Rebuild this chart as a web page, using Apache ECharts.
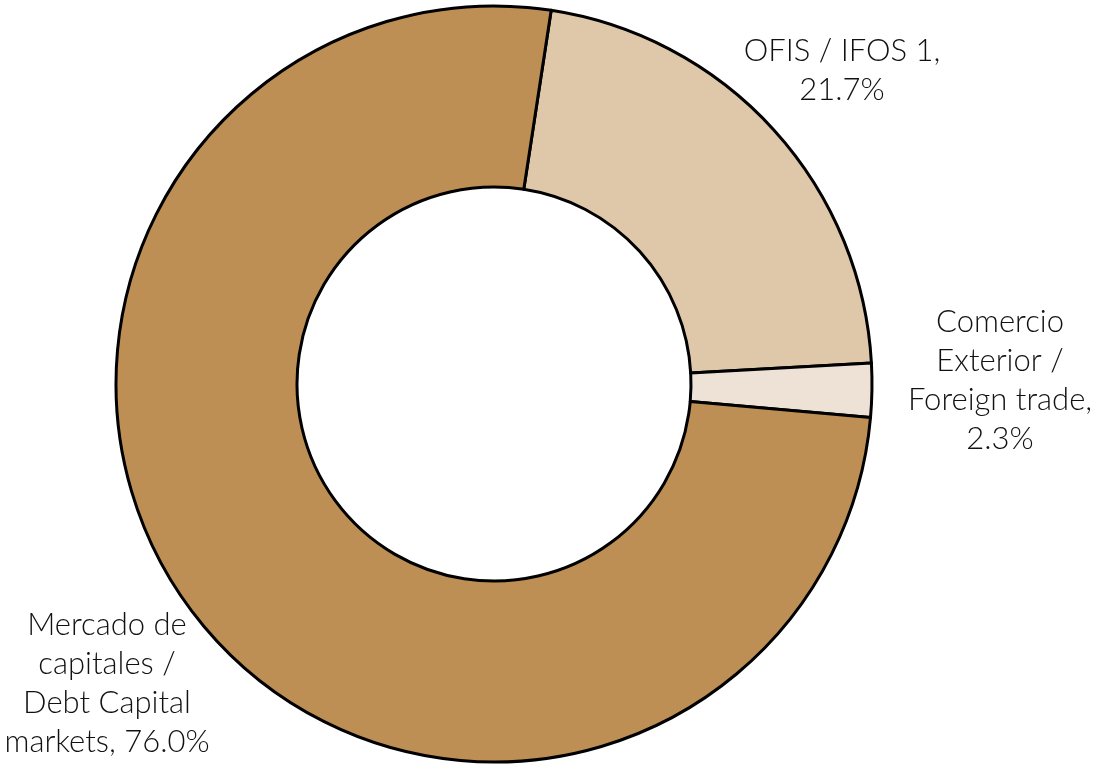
<!DOCTYPE html>
<html>
<head>
<meta charset="utf-8">
<script src="https://cdn.jsdelivr.net/npm/echarts@6/dist/echarts.min.js"></script>
<style>
html,body{margin:0;padding:0;background:#fff;}
#chart{width:1099px;height:764px;}
</style>
</head>
<body>
<div id="chart"></div>
<script>
const categories = ['OFIS / IFOS 1,', 'Comercio\nExterior /\nForeign trade,', 'Mercado de\ncapitales /\nDebt Capital\nmarkets,'];
const values = [21.7, 2.3, 76.0];
const colors = ['#DFC8A9', '#EEE2D7', '#BD8F55'];

// label anchor positions (centre of each text block)
const labelPos = [[842, 70], [1000, 380], [107, 683]];

const chart = echarts.init(document.getElementById('chart'));
chart.setOption({
  animation: false,
  series: [{
    type: 'pie',
    center: [494, 384],
    radius: [197, 378],
    startAngle: 81.3,
    clockwise: true,
    itemStyle: { borderColor: '#000', borderWidth: 3 },
    label: {
      show: true,
      position: 'outside',
      fontFamily: 'Lato',
      fontWeight: 300,
      fontSize: 31,
      lineHeight: 39,
      color: '#111',
      align: 'center',
      overflow: 'none',
      width: 400,
      formatter: function (p) {
        const n = p.name;
        const sep = n.endsWith('markets,') ? ' ' : '\n';
        return n + sep + p.value.toFixed(1) + '%';
      }
    },
    labelLine: { show: false },
    labelLayout: function (params) {
      const pos = labelPos[params.dataIndex];
      return { x: pos[0], y: pos[1], align: 'center', verticalAlign: 'middle', hideOverlap: false };
    },
    emphasis: { disabled: true },
    data: categories.map((c, i) => ({ name: c, value: values[i], itemStyle: { color: colors[i] } }))
  }]
});
</script>
</body>
</html>
